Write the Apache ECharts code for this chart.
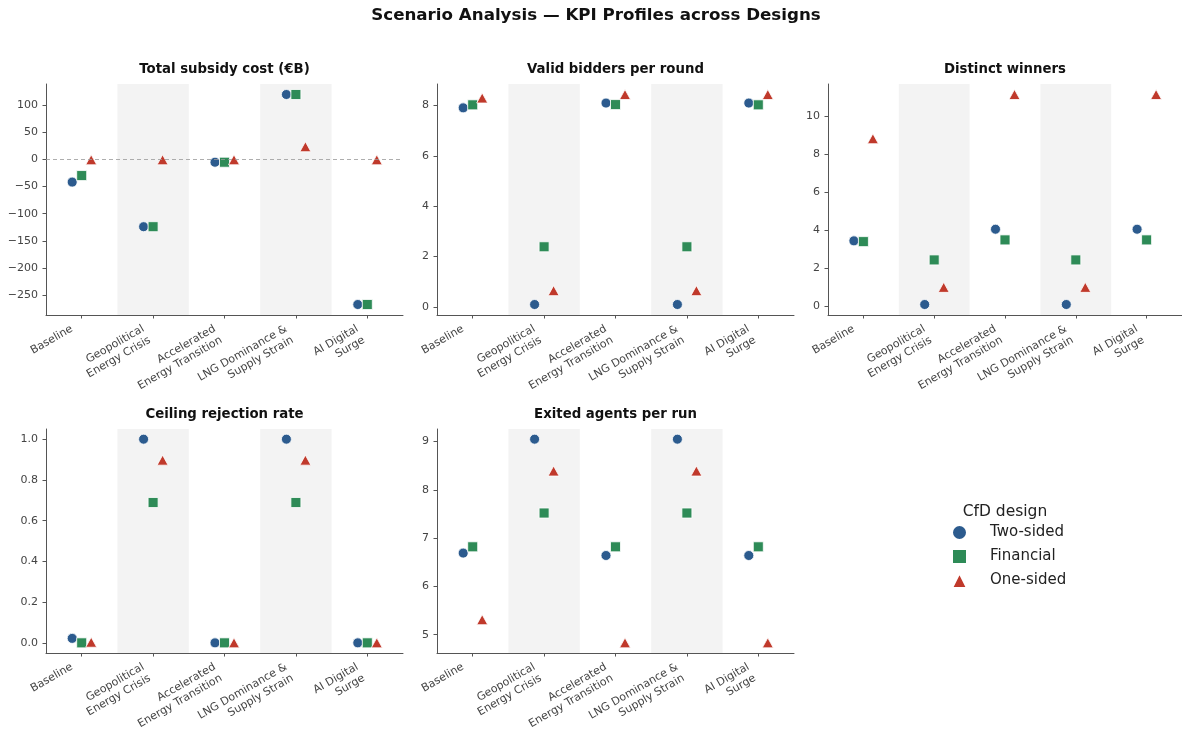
<!DOCTYPE html>
<html>
<head>
<meta charset="utf-8">
<script src="https://cdn.jsdelivr.net/npm/echarts@6/dist/echarts.min.js"></script>
<style>
  html, body { margin: 0; padding: 0; background: #ffffff; }
  #chart { width: 1182px; height: 735px; }
</style>
</head>
<body>
<div id="chart"></div>
<script>
// ---------------- DATA ----------------
const categories = ['Baseline', 'Geopolitical\nEnergy Crisis', 'Accelerated\nEnergy Transition', 'LNG Dominance &\nSupply Strain', 'AI Digital\nSurge'];
const designs = ['Two-sided', 'Financial', 'One-sided'];

const panelTitles = ['Total subsidy cost (€B)', 'Valid bidders per round', 'Distinct winners', 'Ceiling rejection rate', 'Exited agents per run'];

const subsidyTwoSided  = [-42, -124, -5.5, 119, -267];
const subsidyFinancial = [-30, -124, -5.5, 119, -267];
const subsidyOneSided  = [-1, -1, -1, 23, -1];
const subsidyTicks = [-250, -200, -150, -100, -50, 0, 50, 100];

const biddersTwoSided  = [7.9, 0.1, 8.09, 0.1, 8.09];
const biddersFinancial = [8.02, 2.39, 8.03, 2.39, 8.02];
const biddersOneSided  = [8.29, 0.65, 8.43, 0.65, 8.43];
const biddersTicks = [0, 2, 4, 6, 8];

const winnersTwoSided  = [3.44, 0.1, 4.05, 0.1, 4.05];
const winnersFinancial = [3.4, 2.44, 3.49, 2.44, 3.49];
const winnersOneSided  = [8.8, 1.0, 11.12, 1.0, 11.12];
const winnersTicks = [0, 2, 4, 6, 8, 10];

const ceilingTwoSided  = [0.022, 1.0, 0.0, 1.0, 0.0];
const ceilingFinancial = [0.0, 0.689, 0.0, 0.689, 0.0];
const ceilingOneSided  = [0.003, 0.897, 0.0, 0.897, 0.0];
const ceilingTicks = [0.0, 0.2, 0.4, 0.6, 0.8, 1.0];

const exitedTwoSided  = [6.69, 9.05, 6.64, 9.05, 6.64];
const exitedFinancial = [6.82, 7.52, 6.82, 7.52, 6.82];
const exitedOneSided  = [5.31, 8.39, 4.83, 8.39, 4.83];
const exitedTicks = [5, 6, 7, 8, 9];

// ---------------- STYLE / LAYOUT ----------------
const colors = ['#2c5b8e', '#2e8b57', '#c0392b'];
const symbols = ['circle', 'rect', 'triangle'];
const symbolOffsets = [[-9.5, 0], [0, 0], [9.5, 0]];
const FONT = 'DejaVu Sans';

const panels = [
  { series: [subsidyTwoSided, subsidyFinancial, subsidyOneSided], ticks: subsidyTicks, dec: 0, zeroLine: true },
  { series: [biddersTwoSided, biddersFinancial, biddersOneSided], ticks: biddersTicks, dec: 0 },
  { series: [winnersTwoSided, winnersFinancial, winnersOneSided], ticks: winnersTicks, dec: 0 },
  { series: [ceilingTwoSided, ceilingFinancial, ceilingOneSided], ticks: ceilingTicks, dec: 1 },
  { series: [exitedTwoSided, exitedFinancial, exitedOneSided], ticks: exitedTicks, dec: 0 }
];

const grids = [
  { left: 46,  top: 84,  width: 357, height: 231 },
  { left: 437, top: 84,  width: 357, height: 231 },
  { left: 828, top: 84,  width: 354, height: 231 },
  { left: 46,  top: 429, width: 357, height: 231 },
  { left: 437, top: 429, width: 357, height: 231 }
];

const axisColor = '#555555';
const labelColor = '#444444';

const option = {
  animation: false,
  backgroundColor: '#ffffff',
  title: [],
  grid: grids,
  xAxis: [],
  yAxis: [],
  series: [],
  legend: {
    orient: 'vertical',
    left: 951,
    top: 524,
    padding: 0,
    itemWidth: 15,
    itemHeight: 15,
    itemGap: 7,
    data: designs.map((d, i) => ({ name: d, icon: symbols[i] })),
    textStyle: { fontFamily: FONT, fontSize: 15, color: '#222222', padding: [0, 0, 0, 18] },
    selectedMode: false
  }
};

option.title.push({
  text: 'Scenario Analysis — KPI Profiles across Designs',
  left: 596, top: 7, textAlign: 'center', padding: 0,
  textStyle: { fontFamily: FONT, fontSize: 16.7, fontWeight: 'bold', color: '#111111' }
});
option.title.push({
  text: 'CfD design',
  left: 1005, top: 504, textAlign: 'center', padding: 0,
  textStyle: { fontFamily: FONT, fontSize: 15.5, fontWeight: 'normal', color: '#222222' }
});

panels.forEach((p, gi) => {
  const g = grids[gi];
  option.title.push({
    text: panelTitles[gi],
    left: g.left + g.width / 2, top: g.top - 21, textAlign: 'center', padding: 0,
    textStyle: { fontFamily: FONT, fontSize: 13.3, fontWeight: 'bold', color: '#111111' }
  });

  const all = [].concat(...p.series);
  const lo = Math.min(...all), hi = Math.max(...all);
  const pad = (hi - lo) * 0.05;

  option.xAxis.push({
    type: 'category',
    gridIndex: gi,
    data: categories,
    boundaryGap: true,
    axisLine: { show: true, onZero: false, lineStyle: { color: axisColor, width: 1 } },
    axisTick: { show: true, alignWithLabel: true, length: 3.5, lineStyle: { color: axisColor } },
    axisLabel: {
      interval: 0, rotate: 30, margin: 30,
      align: 'right', verticalAlign: 'bottom',
      fontFamily: FONT, fontSize: 11, color: labelColor, lineHeight: 13,
      formatter: v => (v.indexOf('\n') >= 0 ? v : v + '\n ')
    },
    splitLine: { show: false },
    splitArea: { show: true, areaStyle: { color: ['rgba(255,255,255,0)', '#f3f3f3'] } }
  });

  option.yAxis.push({
    type: 'value',
    gridIndex: gi,
    min: lo - pad,
    max: hi + pad,
    axisLine: { show: true, onZero: false, lineStyle: { color: axisColor, width: 1 } },
    axisTick: { show: true, length: 3.5, lineStyle: { color: axisColor }, customValues: p.ticks },
    axisLabel: {
      customValues: p.ticks, margin: 8,
      fontFamily: FONT, fontSize: 11, color: labelColor,
      formatter: v => Number(v).toFixed(p.dec).replace('-', '\u2212')
    },
    splitLine: { show: false }
  });

  p.series.forEach((vals, si) => {
    const s = {
      name: designs[si],
      type: 'scatter',
      xAxisIndex: gi,
      yAxisIndex: gi,
      symbol: symbols[si],
      symbolSize: si === 2 ? [11, 10] : 10,
      symbolOffset: symbolOffsets[si],
      itemStyle: { color: colors[si], borderColor: '#ffffff', borderWidth: 0.8, opacity: 1 },
      emphasis: { disabled: true },
      z: 3,
      data: vals.map((v, ci) => [categories[ci], v])
    };
    if (p.zeroLine && si === 0) {
      s.markLine = {
        silent: true, symbol: 'none',
        label: { show: false },
        lineStyle: { color: '#999999', type: [4, 3], width: 0.8 },
        data: [{ yAxis: 0 }]
      };
    }
    option.series.push(s);
  });
});

const chart = echarts.init(document.getElementById('chart'), null, { renderer: 'canvas' });
chart.setOption(option);
</script>
</body>
</html>
